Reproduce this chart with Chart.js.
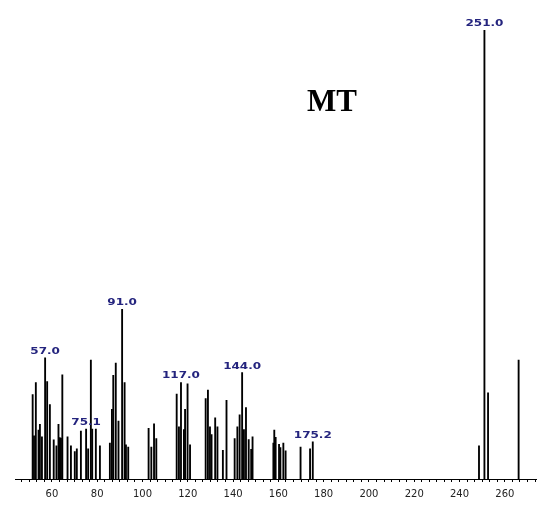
<!DOCTYPE html>
<html>
<head>
<meta charset="utf-8">
<script src="https://cdn.jsdelivr.net/npm/chart.js@4/dist/chart.umd.min.js"></script>
<style>
    html, body { margin: 0; padding: 0; background: #fff; }
    canvas { display: block; }
</style>
</head>
<body>
<canvas id="spectrum" width="541" height="506"></canvas>
<script>
// m/z of each peak and its relative abundance (% of base peak)
const mzValues = [
    51.5, 52.1, 52.9, 54.1, 54.7, 55.6, 57.0, 57.9, 59.1, 60.8,
    62.0, 62.9, 63.4, 64.0, 64.6, 66.9, 68.4, 70.1, 71.0, 72.8,
    75.1, 76.0, 77.2, 77.8, 79.4, 81.2, 85.6, 86.5, 87.1, 88.2,
    89.4, 91.0, 92.1, 92.7, 93.7, 102.7, 103.9, 105.1, 106.1, 115.1,
    116.1, 117.0, 118.3, 118.8, 119.9, 121.0, 127.9, 128.9, 129.8, 130.5,
    132.1, 133.1, 135.5, 137.1, 140.7, 141.9, 142.9, 144.0, 144.8, 145.7,
    146.9, 148.0, 148.6, 157.8, 158.2, 158.8, 160.3, 160.9, 162.2, 163.2,
    169.8, 174.0, 175.2, 248.6, 251.0, 252.6, 266.1,
];
const abundance = [
    18.8, 9.6, 21.5, 10.9, 12.2, 9.4, 27.0, 21.7, 16.6, 8.7,
    7.4, 12.2, 9.2, 9.1, 23.2, 9.4, 7.4, 6.1, 6.7, 10.7,
    11.1, 6.7, 26.5, 11.1, 11.1, 7.4, 8.0, 15.5, 23.1, 25.8,
    12.9, 37.8, 21.5, 7.6, 7.1, 11.3, 7.1, 12.3, 9.0, 18.9,
    11.6, 21.5, 11.0, 15.5, 21.2, 7.6, 17.9, 19.8, 11.6, 9.9,
    13.6, 11.6, 6.4, 17.5, 9.0, 11.6, 14.3, 23.7, 11.0, 15.9,
    8.8, 6.6, 9.4, 8.0, 10.9, 9.3, 7.7, 7.0, 8.0, 6.3,
    7.1, 6.7, 8.3, 7.4, 100, 19.2, 26.5,
];
// peaks that carry an m/z label
const labelledPeaks = [57.0, 75.1, 91.0, 117.0, 144.0, 175.2, 251.0];
const xLabels = [60, 80, 100, 120, 140, 160, 180, 200, 220, 240, 260];

const X_MIN = 43.7;
const X_MAX = 273.9;
const MINOR_STEP = 20 / 6;

// m/z values over each peak plus the sample name
const peakLabels = {
    id: 'peakLabels',
    afterDatasetsDraw(chart) {
        const { ctx, scales: { x, y } } = chart;
        ctx.save();
        ctx.fillStyle = '#24247e';
        ctx.textAlign = 'center';
        ctx.textBaseline = 'alphabetic';
        ctx.font = 'bold 8px "DejaVu Sans"';
        labelledPeaks.forEach((m) => {
            const i = mzValues.indexOf(m);
            if (i < 0) {
                return;
            }
            const px = x.getPixelForValue(m);
            const py = y.getPixelForValue(abundance[i]) - 4;
            ctx.save();
            ctx.translate(px, py);
            ctx.scale(1.5, 1);
            ctx.fillText(m.toFixed(1), 0, 0);
            ctx.restore();
        });

        ctx.fillStyle = '#000';
        ctx.font = 'bold 31px "Liberation Serif"';
        ctx.fillText('MT', 332, 111);
        ctx.restore();
    },
};

new Chart(document.getElementById('spectrum'), {
    type: 'bar',
    data: {
        datasets: [{
            data: mzValues.map((m, i) => ({ x: m, y: abundance[i] })),
            backgroundColor: '#000',
            borderWidth: 0,
            barThickness: 1.2,
        }],
    },
    options: {
        responsive: false,
        animation: false,
        events: [],
        layout: { padding: { left: 15, top: 30, right: 0, bottom: 0 } },
        plugins: {
            legend: { display: false },
            tooltip: { enabled: false },
        },
        scales: {
            x: {
                type: 'linear',
                min: X_MIN,
                max: X_MAX,
                offset: false,
                grid: {
                    offset: false,
                    drawOnChartArea: false,
                    tickLength: 3,
                    tickWidth: 1,
                    color: '#000',
                },
                border: { display: true, color: '#000', width: 1 },
                afterBuildTicks(scale) {
                    const ticks = [];
                    for (let k = -6; 60 + k * MINOR_STEP <= X_MAX; k++) {
                        const v = 60 + k * MINOR_STEP;
                        if (v >= X_MIN) {
                            ticks.push({ value: Math.round(v * 1000) / 1000 });
                        }
                    }
                    scale.ticks = ticks;
                },
                ticks: {
                    autoSkip: false,
                    maxRotation: 0,
                    padding: 6,
                    color: '#222',
                    font: { family: 'DejaVu Sans', size: 10 },
                    callback: (v) => (xLabels.includes(v) ? String(v) : ''),
                },
            },
            y: { display: false, min: 0, max: 100 },
        },
    },
    plugins: [peakLabels],
});
</script>
</body>
</html>
